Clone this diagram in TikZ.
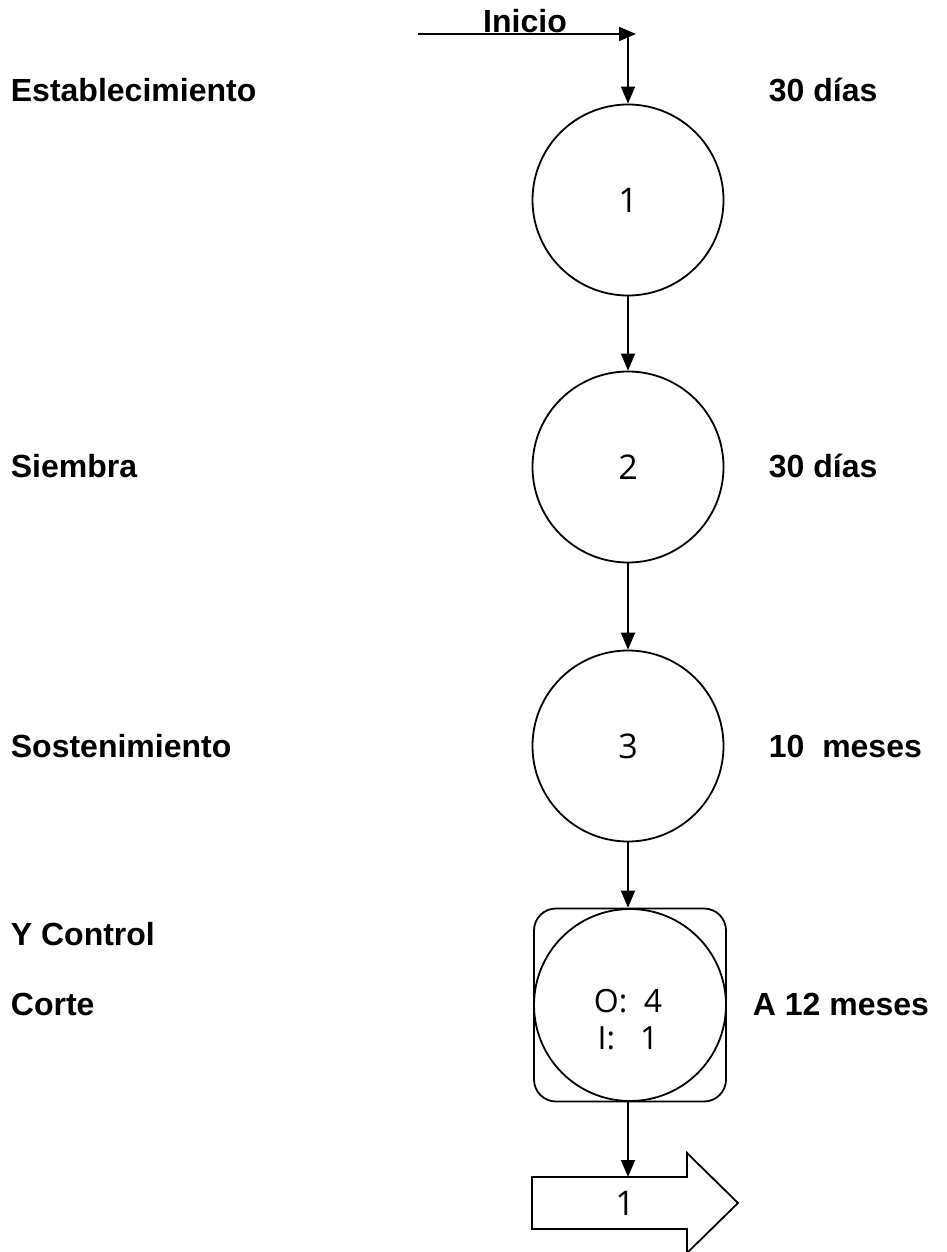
\documentclass[tikz,border=0pt]{standalone}
\usepackage{fontspec}
\setmainfont{Liberation Sans}
\newfontfamily\numfont{Open Sans}
\usetikzlibrary{arrows.meta}
\begin{document}
\begin{tikzpicture}[x=1pt,y=-1pt,
  lbl/.style={anchor=base west,inner sep=0pt,font=\fontsize{32}{38}\selectfont\bfseries},
  stage/.style={circle,draw,line width=1.8pt,minimum size=191pt,inner sep=0pt,font=\numfont\fontsize{34}{40}\selectfont},
  conn/.style={line width=1.8pt,-{Triangle[length=17pt,width=14pt]}},
  every path/.style={line width=1.8pt}]
\useasboundingbox (0,0) rectangle (946,1252);
% labels left
\node[lbl] (l1) at (10,102) {Establecimiento};
\node[lbl] (l2) at (10,477) {Siembra};
\node[lbl] (l3) at (10,757) {Sostenimiento};
\node[lbl] (l4) at (10,945) {Y Control};
\node[lbl] (l5) at (10,1015) {Corte};
% labels right
\node[lbl] (r1) at (768,102) {30 días};
\node[lbl] (r2) at (768,477) {30 días};
\node[lbl] (r3) at (768,757) {10\ \ meses};
\node[lbl] (r4) at (752,1015) {A 12 meses};
% inicio
\node[lbl,anchor=base] (ini) at (525,33) {Inicio};
\coordinate (s0) at (418,34);
\coordinate (s1) at (636,34);
\coordinate (s2) at (628,34);
% circles
\node[stage] (c1) at (628,200) {1};
\node[stage] (c2) at (628,467) {2};
\node[stage] (c3) at (628,746) {3};
\node[draw,rounded corners=22pt,minimum width=192pt,minimum height=193pt,inner sep=0pt] (sq) at (630,1005) {};
\node[stage,minimum size=192pt] (c4) at (630,1005) {};
\node[align=center,inner sep=0pt,font=\numfont\fontsize{32}{38}\selectfont] (c4t) at (628,1020) {O:\ \ 4\\[-1pt]I:\ \ \ 1};
% block arrow
\draw[line join=miter] (532,1177) -- (687,1177) -- (687,1153) -- (738,1203) -- (687,1253) -- (687,1229) -- (532,1229) -- cycle;
\node[font=\numfont\fontsize{34}{38}\selectfont,inner sep=0pt] (b1) at (625,1203) {1};
\coordinate (bt) at (628,1177);
% connectors
\draw[conn] (s0) -- (s1);
\draw[conn] (s2) -- (c1.north);
\draw[conn] (c1.south) -- (c2.north);
\draw[conn] (c2.south) -- (c3.north);
\draw[conn] (c3.south) -- (c3.south |- sq.north);
\draw[conn] (c3.south |- sq.south) -- (bt);
\end{tikzpicture}
\end{document}
